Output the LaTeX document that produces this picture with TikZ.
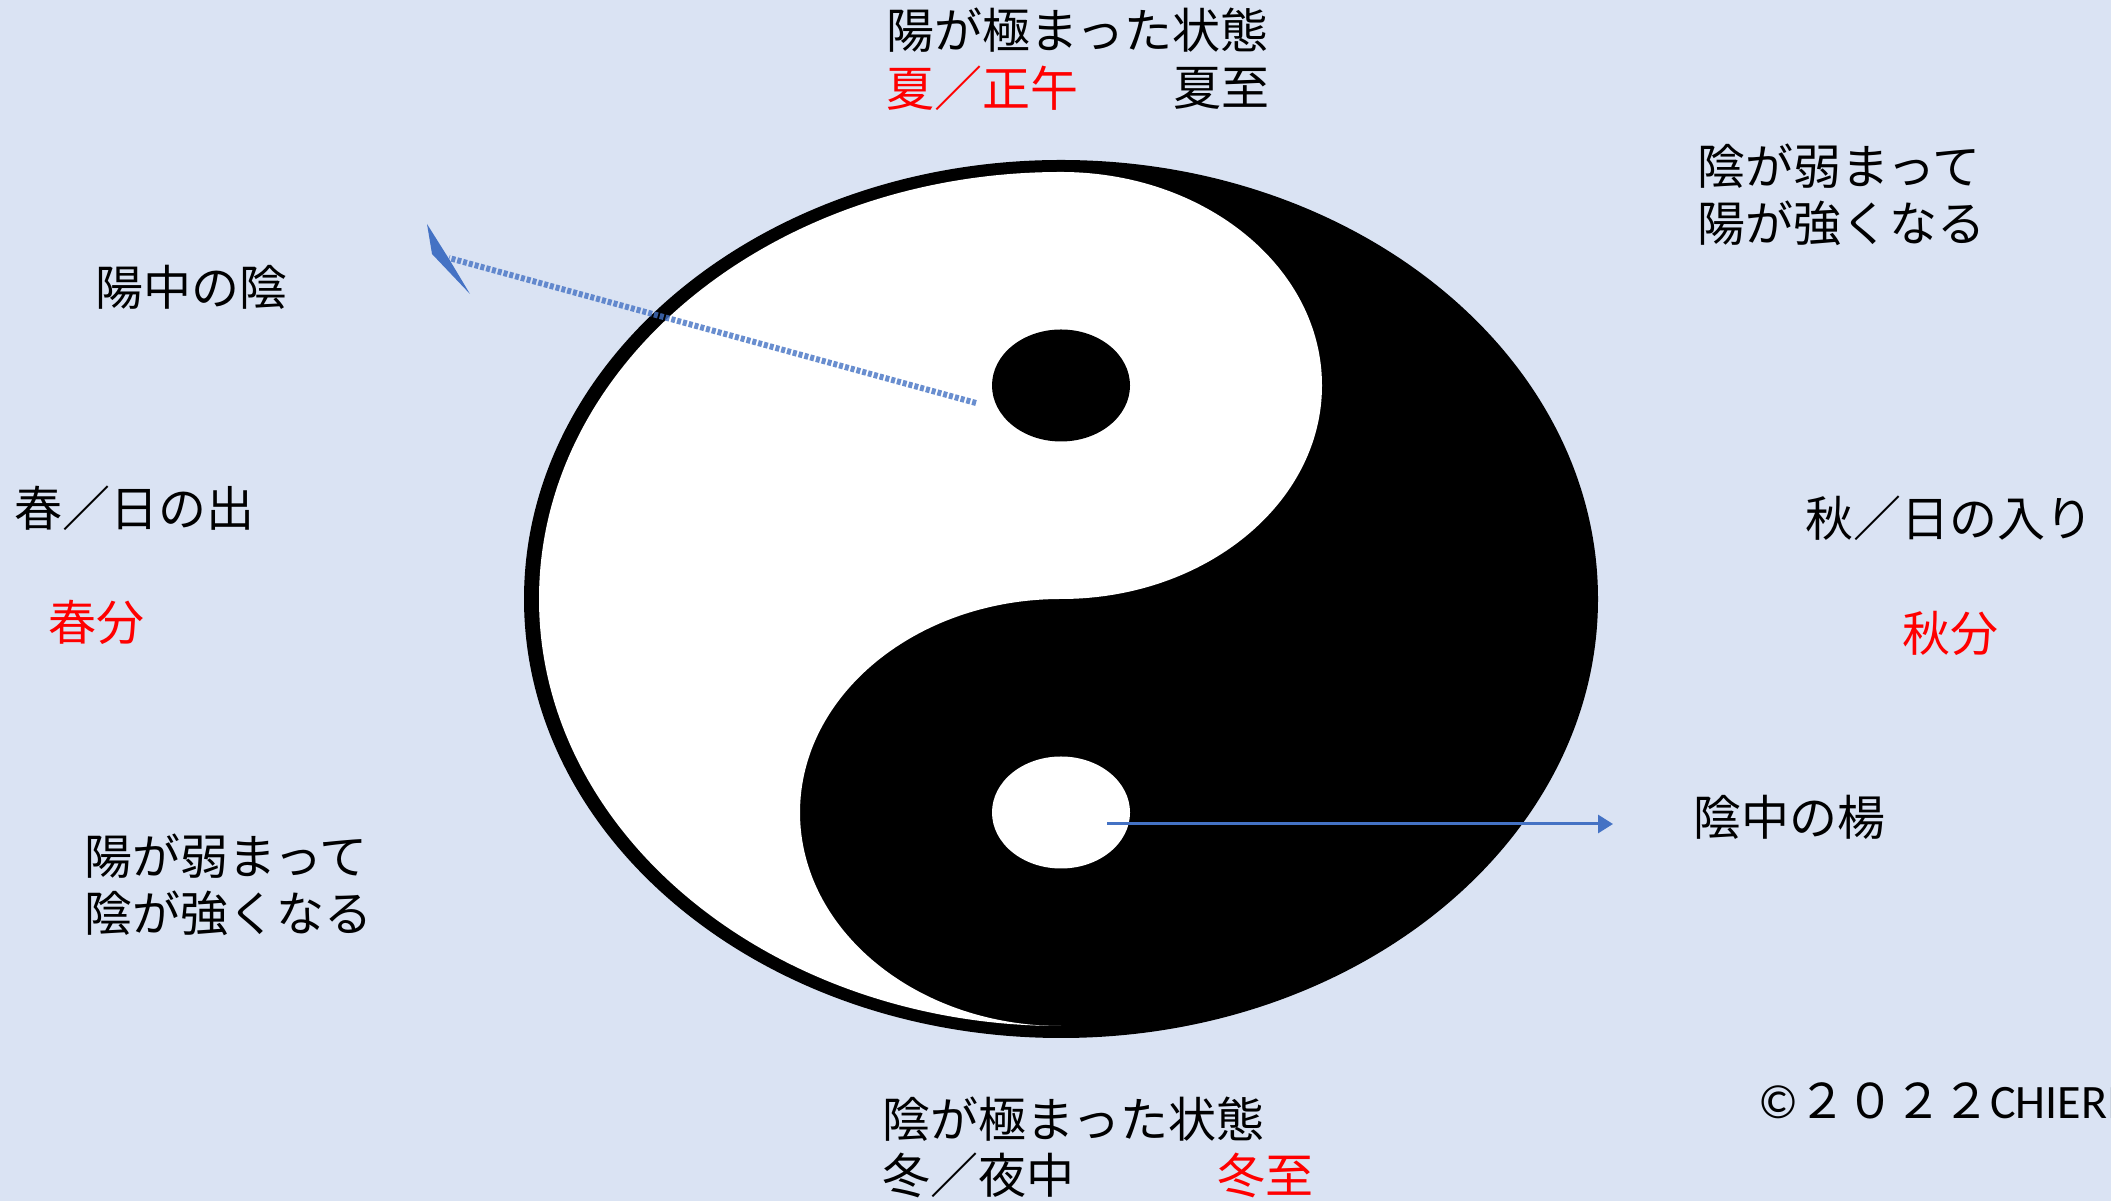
\documentclass[tikz,border=0pt]{standalone}
\usepackage{fontspec}
\setmainfont{Carlito}
\newfontfamily\jp{Noto Sans CJK JP}
\usetikzlibrary{arrows.meta,shapes.geometric}
\definecolor{bg}{HTML}{DAE3F3}
\definecolor{arrowblue}{HTML}{4472C4}
\definecolor{redtxt}{HTML}{FF0000}
\begin{document}
\begin{tikzpicture}[x=1pt,y=1pt,
  lbl/.style={anchor=west, inner sep=0pt, font=\jp\fontsize{48}{57}\selectfont, text=black, align=left},
  redlbl/.style={lbl, text=redtxt},
  dotshape/.style={ellipse, minimum width=138pt, minimum height=112pt, inner sep=0pt},
  fuzzyline/.style={draw=arrowblue, line width=6pt, dash pattern=on 4pt off 2pt, opacity=0.8},
  thinarrow/.style={draw=arrowblue, line width=3pt, -{Triangle[length=15pt,width=18pt]}}]
\fill[bg] (0,0) rectangle (2111,1201);
\useasboundingbox (0,0) rectangle (2111,1201);

% yin-yang
\fill[black] (1061,602) ellipse [x radius=537, y radius=439];
\fill[white] (1061,1029) arc[start angle=90, end angle=270, x radius=522, y radius=427]
  arc[start angle=270, end angle=90, x radius=261, y radius=213.5]
  arc[start angle=-90, end angle=90, x radius=261, y radius=213.5] -- cycle;
\node[dotshape, fill=black] (ydot) at (1061,815.5) {};
\node[dotshape, fill=white] (wdot) at (1061,388.5) {};

% labels
\node[lbl] (t1) at (886,1171) {陽が極まった状態};
\node[redlbl] (t2) at (886,1113) {夏／正午};
\node[lbl] (t3) at (1173,1113) {夏至};
\node[lbl] (t4) at (1697,1006) {陰が弱まって\\陽が強くなる};
\node[lbl] (t5) at (95,914) {陽中の陰};
\node[lbl] (t6) at (14,693) {春／日の出};
\node[redlbl] (t7) at (48,579) {春分};
\node[lbl] (t8) at (1805,683) {秋／日の入り};
\node[redlbl] (t9) at (1902,568) {秋分};
\node[lbl] (t10) at (1693,384) {陰中の楊};
\node[lbl] (t11) at (84,316) {陽が弱まって\\陰が強くなる};
\node[lbl] (t12) at (882,82) {陰が極まった状態};
\node[lbl] (t13) at (882,26) {冬／夜中};
\node[redlbl] (t14) at (1217,26) {冬至};
\node[anchor=west, inner sep=0pt, font=\fontsize{48}{57}\selectfont] (copy) at (1758,100) {©{\jp ２０２２}CHIERI};

% arrow 1 (fuzzy, to 陽中の陰)
\coordinate (a1s) at (976,798);
\coordinate (a1e) at (449,943);
\coordinate (h1) at (427,977);
\coordinate (h2) at (432,947);
\coordinate (h3) at (470,907);
\coordinate (h4) at (449,942);
\draw[fuzzyline] (a1s) -- (a1e);
\fill[arrowblue] (h1) -- (h2) -- (h3) -- (h4) -- cycle;

% arrow 2 (to 陰中の楊)
\coordinate (a2s) at (1107,377);
\coordinate (a2e) at (1613,377);
\draw[thinarrow] (a2s) -- (a2e);
\end{tikzpicture}
\end{document}
